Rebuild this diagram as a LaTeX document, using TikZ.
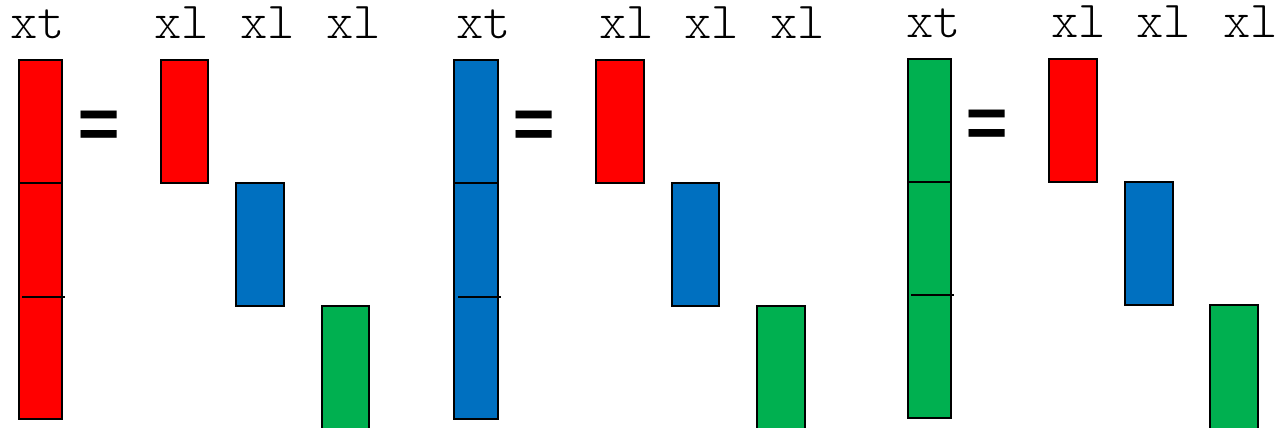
\documentclass[tikz,border=0pt]{standalone}
\usepackage{fontspec}
\setmonofont{Liberation Mono}
\newfontfamily\courfont{lmmonolt10-regular.otf}
\definecolor{cred}{HTML}{FF0000}
\definecolor{cblue}{HTML}{0070C0}
\definecolor{cgreen}{HTML}{00B050}
\begin{document}
\begin{tikzpicture}[x=1pt,y=-1pt,
  bar/.style={draw=black,line width=1.5pt,inner sep=0pt,outer sep=0pt,anchor=north west},
  divider/.style={draw=black,line width=1.5pt},
  lab/.style={font=\fontsize{52}{52}\selectfont\courfont,inner sep=0pt,anchor=base west},
  eqsign/.style={font=\fontsize{72}{72}\selectfont\ttfamily\bfseries,inner sep=0pt}]
\useasboundingbox (0,0) rectangle (1278,428);
% group 1
\node[bar,fill=cred,minimum width=43pt,minimum height=359pt] (t1) at (19,60) {};
\coordinate (d1a) at (19,183); \coordinate (d1b) at (62,183);
\coordinate (d1c) at (22,297); \coordinate (d1d) at (65,297);
\draw[divider] (d1a) -- (d1b);
\draw[divider] (d1c) -- (d1d);
\node[bar,fill=cred,minimum width=47pt,minimum height=123pt] (r1) at (161,60) {};
\node[bar,fill=cblue,minimum width=48pt,minimum height=123pt] (b1) at (236,183) {};
\node[bar,fill=cgreen,minimum width=47pt,minimum height=130pt] (g1) at (322,306) {};
\node[eqsign] (e1) at (99,130) {=};
\node[lab] (xt1) at (10,38.5) {xt};
\node[lab] (xa1) at (154,38.5) {xl};
\node[lab] (xb1) at (240,38.5) {xl};
\node[lab] (xc1) at (326,38.5) {xl};
% group 2
\node[bar,fill=cblue,minimum width=44pt,minimum height=359pt] (t2) at (454,60) {};
\coordinate (d2a) at (454,183); \coordinate (d2b) at (498,183);
\coordinate (d2c) at (458,297); \coordinate (d2d) at (501,297);
\draw[divider] (d2a) -- (d2b);
\draw[divider] (d2c) -- (d2d);
\node[bar,fill=cred,minimum width=48pt,minimum height=123pt] (r2) at (596,60) {};
\node[bar,fill=cblue,minimum width=47pt,minimum height=123pt] (b2) at (672,183) {};
\node[bar,fill=cgreen,minimum width=48pt,minimum height=130pt] (g2) at (757,306) {};
\node[eqsign] (e2) at (534,130) {=};
\node[lab] (xt2) at (456,38.5) {xt};
\node[lab] (xa2) at (599,38.5) {xl};
\node[lab] (xb2) at (684,38.5) {xl};
\node[lab] (xc2) at (770,38.5) {xl};
% group 3
\node[bar,fill=cgreen,minimum width=43pt,minimum height=359pt] (t3) at (908,59) {};
\coordinate (d3a) at (908,182); \coordinate (d3b) at (951,182);
\coordinate (d3c) at (911,295); \coordinate (d3d) at (954,295);
\draw[divider] (d3a) -- (d3b);
\draw[divider] (d3c) -- (d3d);
\node[bar,fill=cred,minimum width=48pt,minimum height=123pt] (r3) at (1049,59) {};
\node[bar,fill=cblue,minimum width=48pt,minimum height=123pt] (b3) at (1125,182) {};
\node[bar,fill=cgreen,minimum width=48pt,minimum height=130pt] (g3) at (1210,305) {};
\node[eqsign] (e3) at (987.5,129) {=};
\node[lab] (xt3) at (906,38) {xt};
\node[lab] (xa3) at (1051,38) {xl};
\node[lab] (xb3) at (1136,38) {xl};
\node[lab] (xc3) at (1223,38) {xl};
\end{tikzpicture}
\end{document}
